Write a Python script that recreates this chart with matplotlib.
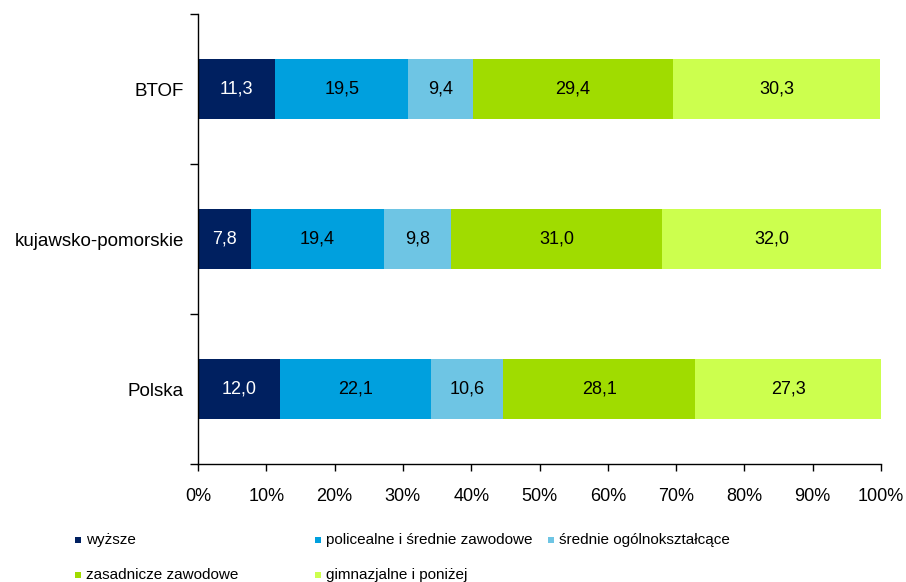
import matplotlib.pyplot as plt
from matplotlib.patches import Rectangle

plt.rcParams['font.family'] = ['Liberation Sans', 'DejaVu Sans']

# categories, bottom to top
regions = ["Polska", "kujawsko-pomorskie", "BTOF"]
series = ["wyższe", "policealne i średnie zawodowe", "średnie ogólnokształcące",
          "zasadnicze zawodowe", "gimnazjalne i poniżej"]
wyzsze = [12.0, 7.8, 11.3]
policealne = [22.1, 19.4, 19.5]
srednie = [10.6, 9.8, 9.4]
zasadnicze = [28.1, 31.0, 29.4]
gimnazjalne = [27.3, 32.0, 30.3]
values = [wyzsze, policealne, srednie, zasadnicze, gimnazjalne]
colors = ["#002060", "#00A0DE", "#6EC5E4", "#A0DC00", "#CCFF4E"]
text_colors = ["white", "black", "black", "black", "black"]

fig = plt.figure(figsize=(9.06, 5.82), dpi=100)
ax = fig.add_axes([198 / 906, 1 - 464 / 582, 683 / 906, 450 / 582])

y = list(range(len(regions)))
left = [0.0] * len(regions)
for vals, col, tcol in zip(values, colors, text_colors):
    ax.barh(y, vals, left=left, height=0.4, color=col, edgecolor="none")
    for yi, l, v in zip(y, left, vals):
        ax.text(l + v / 2, yi, f"{v:.1f}".replace(".", ","), ha="center", va="center",
                color=tcol, fontsize=13)
    left = [l + v for l, v in zip(left, vals)]

ax.set_xlim(0, 100)
ax.set_ylim(-0.5, 2.5)
ax.set_xticks(range(0, 101, 10))
ax.set_xticklabels([f"{t}%" for t in range(0, 101, 10)], fontsize=13)
ax.set_yticks([-0.5, 0.5, 1.5, 2.5])
ax.set_yticklabels([])
ax.set_yticks(y, minor=True)
ax.set_yticklabels(regions, minor=True, fontsize=13.5)
ax.tick_params(axis="y", which="minor", length=0, pad=10)
ax.tick_params(axis="y", which="major", length=6, direction="out", width=1)
ax.tick_params(axis="x", length=5, direction="out", width=1, pad=12)
for s in ["top", "right"]:
    ax.spines[s].set_visible(False)
for s in ["left", "bottom"]:
    ax.spines[s].set_linewidth(1)

# legend, placed like the original
legend_pos = [(75, 540), (315, 540), (548, 540), (75, 575), (315, 575)]
for name, col, (px, py) in zip(series, colors, legend_pos):
    fig.patches.append(Rectangle((px / 906, 1 - (py + 3) / 582), 6 / 906, 6 / 582,
                                 transform=fig.transFigure, facecolor=col, edgecolor="none"))
    fig.text((px + 11) / 906, 1 - py / 582, name, fontsize=11, va="center", ha="left")

fig.savefig("out.png", dpi=100)
